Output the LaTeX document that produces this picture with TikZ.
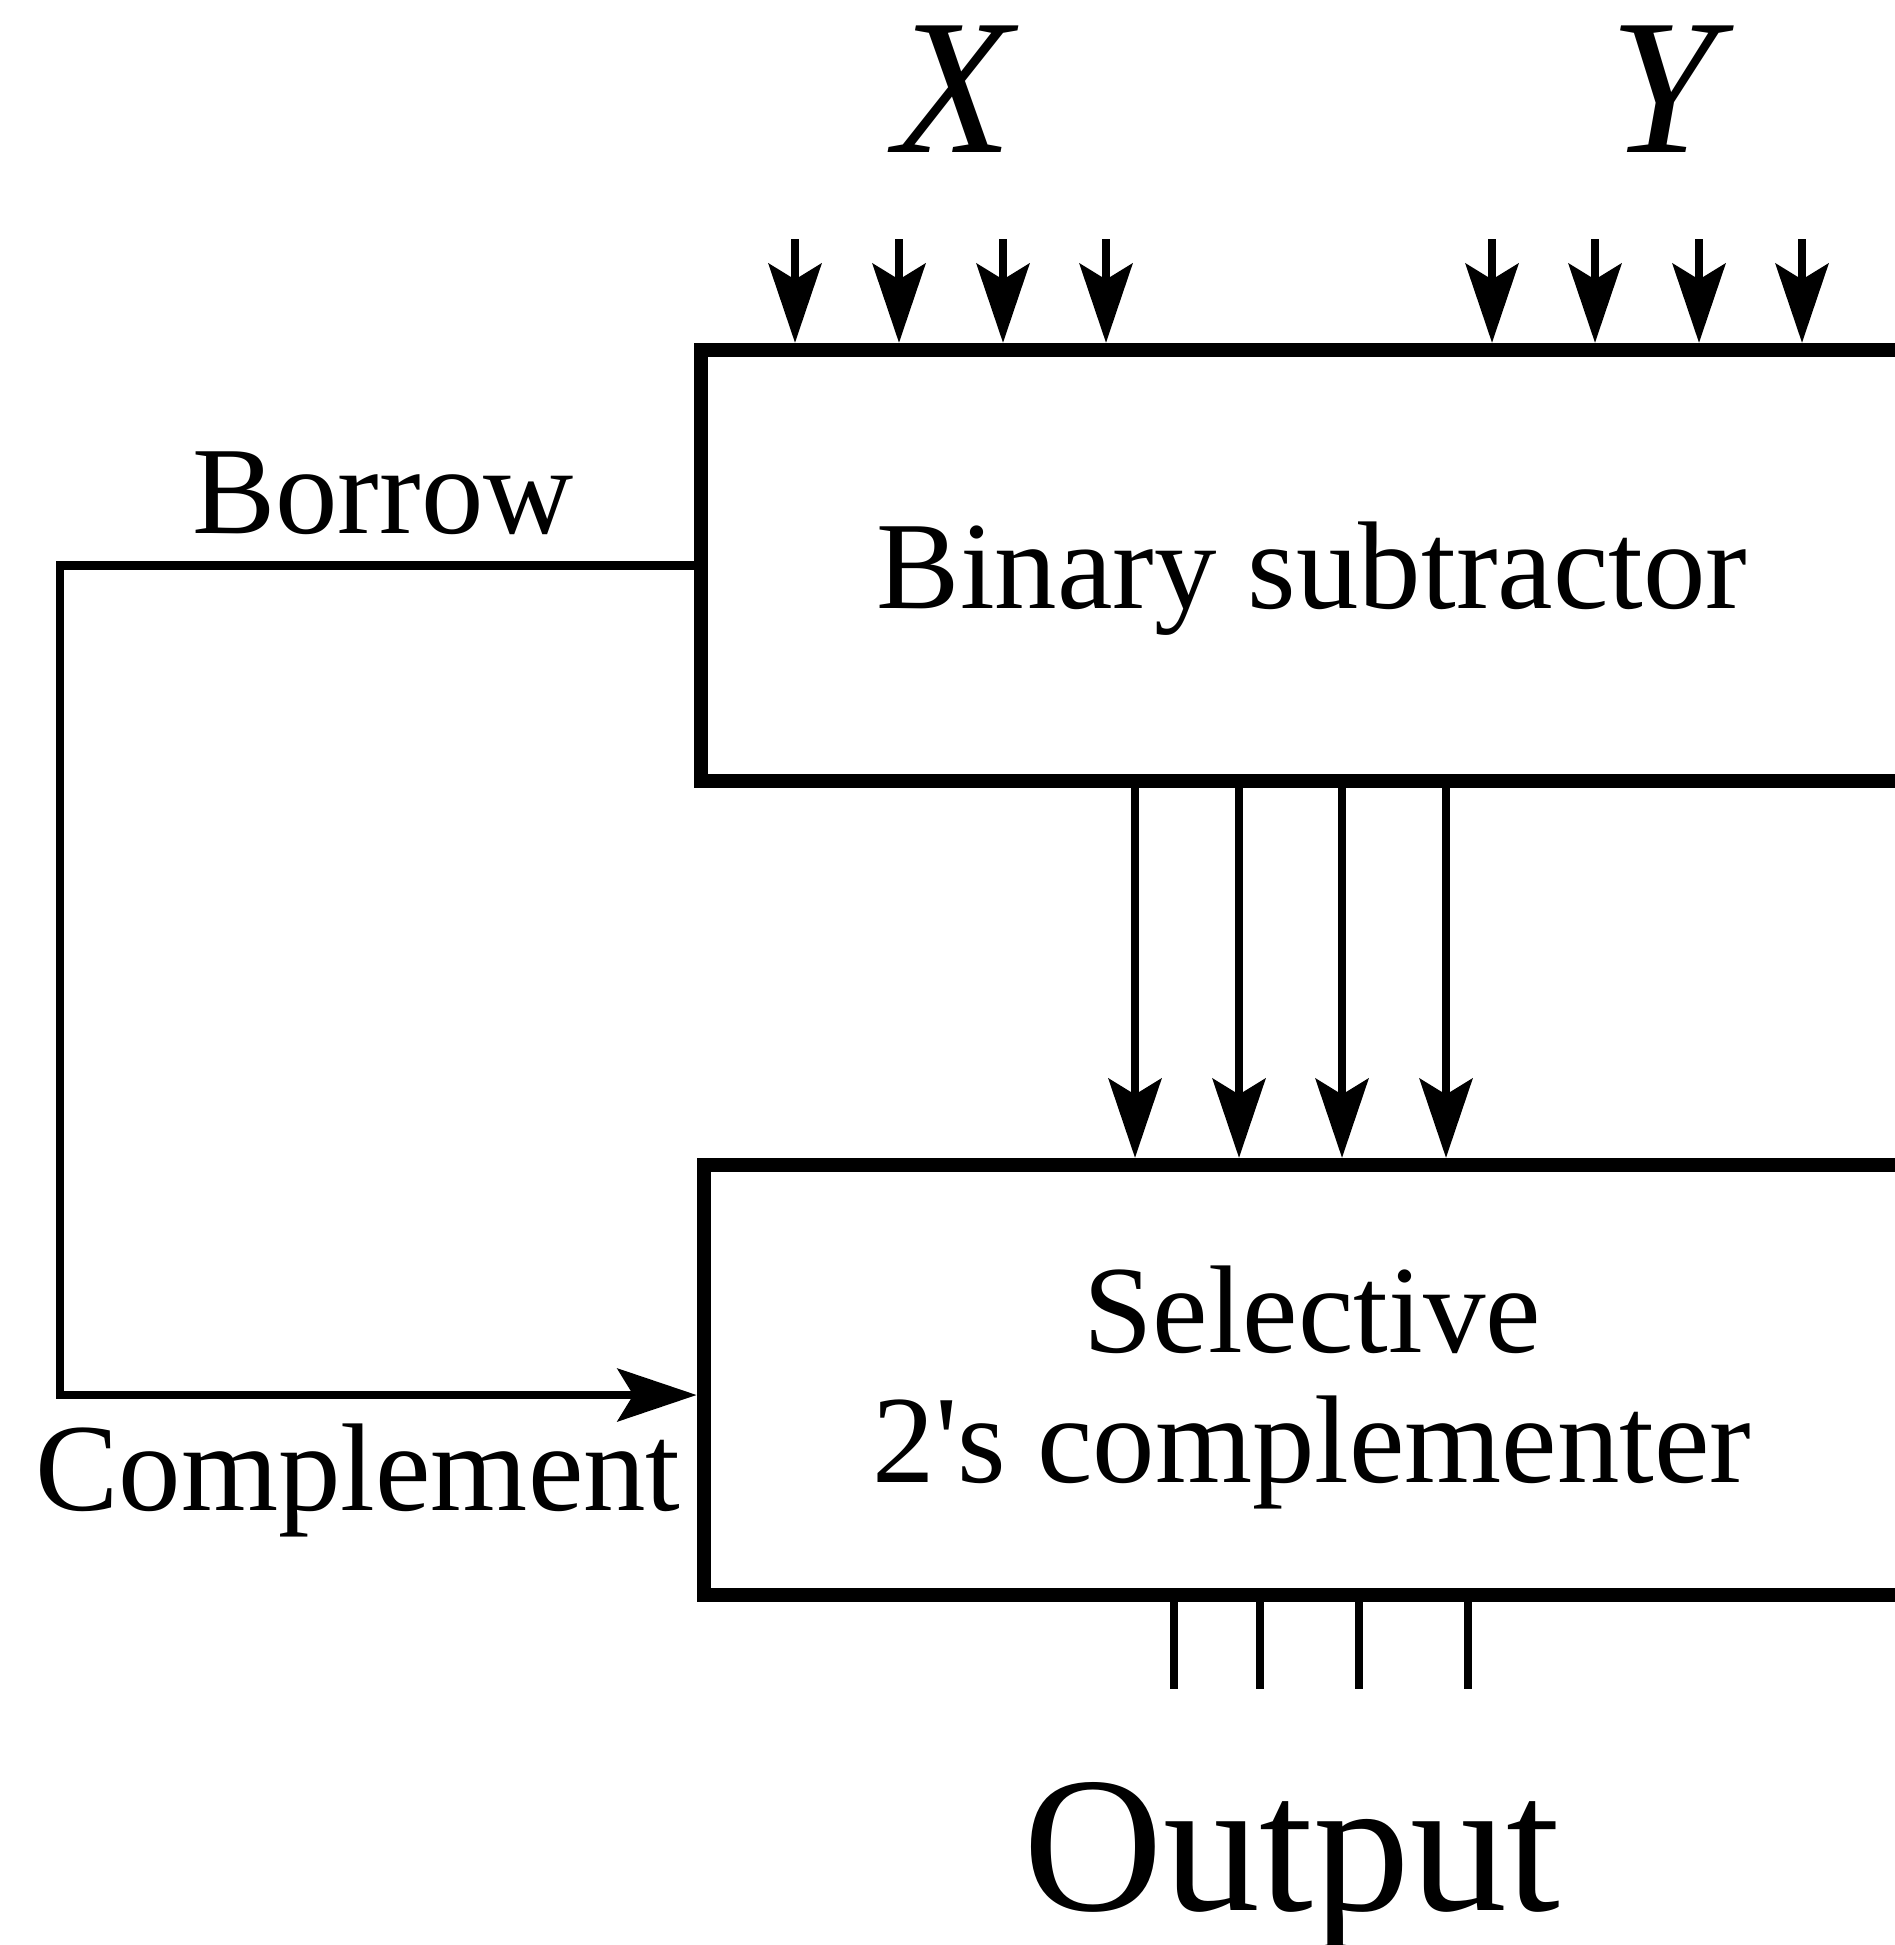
\documentclass[tikz,border=0pt]{standalone}
\usepackage{fontspec}
\setmainfont{Liberation Serif}
\usetikzlibrary{arrows.meta}

\tikzset{
    block/.style={draw, line width=4pt, inner sep=0pt},
    wire/.style={line width=2.3pt},
    txt/.style={anchor=base, inner sep=0pt, font=\fontsize{35.5pt}{40pt}\selectfont},
    bigtxt/.style={anchor=base, inner sep=0pt, font=\fontsize{55pt}{60pt}\selectfont},
}

\begin{document}
\begin{tikzpicture}[x=0.01cm, y=-0.01cm, >={Stealth[length=22.5pt, width=15pt, inset=4.5pt]}]
    \clip (0,0) rectangle (1895,1945);

    % the two blocks
    \node[block, minimum width=12.22cm, minimum height=4.31cm] (sub) at (1312,565.5) {};
    \node[block, minimum width=12.16cm, minimum height=4.30cm] (comp) at (1312,1380) {};

    \node[txt] (subname) at (1312,608) {Binary subtractor};
    \node[txt] (compname1) at (1312,1352) {Selective};
    \node[txt] (compname2) at (1312,1482) {2\textquotesingle s complementer};

    % inputs
    \node[bigtxt] (xname) at (957,152) {\textit{X}};
    \node[bigtxt] (yname) at (1672,152) {\textit{Y}};
    \foreach \x [count=\i] in {795,899,1003,1106} {
        \coordinate (x\i) at (\x,239);
        \draw[wire, ->] (x\i) -- (x\i |- sub.north);
    }
    \foreach \x [count=\i] in {1492,1595,1699,1802} {
        \coordinate (y\i) at (\x,239);
        \draw[wire, ->] (y\i) -- (y\i |- sub.north);
    }

    % difference bits
    \foreach \x [count=\i] in {1135,1239,1342,1446} {
        \coordinate (d\i) at (\x,781);
        \draw[wire, ->] (d\i |- sub.south) -- (d\i |- comp.north);
    }

    % outputs
    \foreach \x [count=\i] in {1174,1260,1359,1468} {
        \coordinate (o\i) at (\x,1689);
        \draw[wire] (o\i |- comp.south) -- (o\i);
    }
    \node[bigtxt] (outname) at (1292,1910) {Output};

    % borrow fed back as complement
    \coordinate (loop) at (60,1395);
    \draw[wire, ->] (sub.west) -| (loop) -- (loop -| comp.west);
    \node[txt] (borrow) at (383,533) {Borrow};
    \node[txt] (complement) at (358,1510) {Complement};
\end{tikzpicture}
\end{document}
